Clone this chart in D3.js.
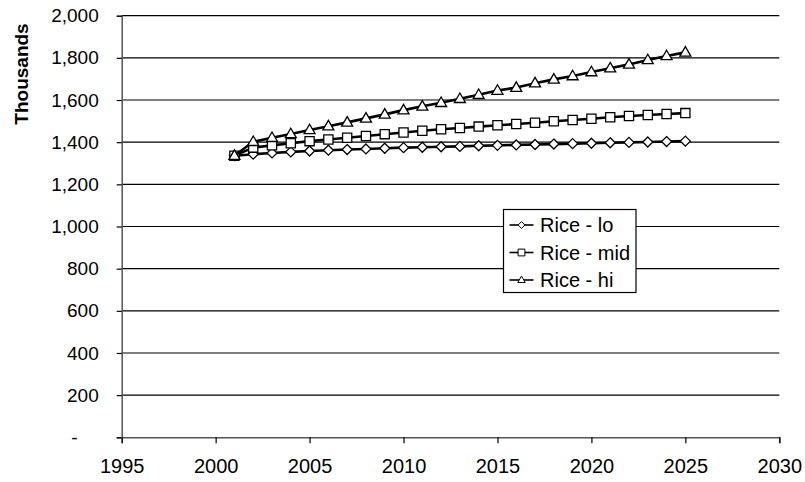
<!DOCTYPE html>
<html>
<head>
<meta charset="utf-8">
<script src="https://cdn.jsdelivr.net/npm/d3@7"></script>
<style>
  html, body { margin: 0; padding: 0; background: #fff; }
  svg { display: block; font-family: "Liberation Sans", Arial, sans-serif; }
</style>
</head>
<body>
<svg id="chart" width="805" height="482"></svg>
<script>
// Projection years
const years = [2001, 2002, 2003, 2004, 2005, 2006, 2007, 2008, 2009, 2010, 2011, 2012, 2013,
               2014, 2015, 2016, 2017, 2018, 2019, 2020, 2021, 2022, 2023, 2024, 2025];

// Series values (thousands)
const riceLo  = [1336, 1343, 1349, 1354, 1358, 1362, 1365, 1368, 1371, 1374, 1376, 1378, 1380,
                 1383, 1385, 1387, 1389, 1391, 1393, 1395, 1397, 1399, 1401, 1403, 1405];
const riceMid = [1336, 1374, 1385, 1395, 1405, 1413, 1421, 1429, 1438, 1446, 1454, 1461, 1467,
                 1474, 1480, 1486, 1492, 1499, 1505, 1511, 1518, 1524, 1529, 1534, 1538];
const riceHi  = [1336, 1402, 1421, 1439, 1458, 1476, 1494, 1513, 1532, 1552, 1570, 1587, 1606,
                 1625, 1645, 1659, 1680, 1698, 1714, 1733, 1751, 1769, 1790, 1809, 1826];

const seriesNames = ["Rice - lo", "Rice - mid", "Rice - hi"];
const seriesValues = [riceLo, riceMid, riceHi];
const seriesSymbols = ["diamond", "square", "triangle"];

// Axis ticks
const xTicks = [1995, 2000, 2005, 2010, 2015, 2020, 2025, 2030];
const yTicks = [0, 200, 400, 600, 800, 1000, 1200, 1400, 1600, 1800, 2000];

const svg = d3.select("#chart");
const plotLeft = 121.7, plotRight = 779.3, plotTop = 15.7, plotBottom = 437.3;

const x = d3.scaleLinear().domain([1995, 2030]).range([plotLeft, plotRight]);
const y = d3.scaleLinear().domain([0, 2000]).range([plotBottom, plotTop]);

// Horizontal gridlines
svg.append("g")
  .selectAll("line")
  .data(yTicks.filter(d => d > 0))
  .join("line")
  .attr("x1", plotLeft).attr("x2", plotRight)
  .attr("y1", d => y(d)).attr("y2", d => y(d))
  .attr("stroke", "#000").attr("stroke-width", 1.2);

// Y axis
const fmt = d3.format(",");
const yAxis = svg.append("g")
  .attr("transform", `translate(${plotLeft},0)`)
  .call(d3.axisLeft(y).tickValues(yTicks).tickSize(5).tickPadding(18)
        .tickFormat(d => d === 0 ? "-" : fmt(d)));
yAxis.select(".domain").attr("stroke", "#555").attr("stroke-width", 1.5);
yAxis.selectAll(".tick line").attr("stroke", "#000").attr("stroke-width", 1.2);
yAxis.selectAll(".tick text")
  .attr("font-size", 19).attr("fill", "#000")
  .attr("font-family", "Liberation Sans, Arial, sans-serif")
  .attr("dx", d => d === 0 ? -21 : 0);

// X axis
const xAxis = svg.append("g")
  .attr("transform", `translate(0,${plotBottom})`)
  .call(d3.axisBottom(x).tickValues(xTicks).tickSize(6).tickPadding(16)
        .tickFormat(d3.format("d")));
xAxis.select(".domain").attr("stroke", "#555").attr("stroke-width", 1.5);
xAxis.selectAll(".tick line").attr("stroke", "#000").attr("stroke-width", 1.2);
xAxis.selectAll(".tick text")
  .attr("font-size", 20).attr("fill", "#000")
  .attr("font-family", "Liberation Sans, Arial, sans-serif");

// Y axis title
svg.append("text")
  .attr("transform", "translate(28,74) rotate(-90)")
  .attr("text-anchor", "middle")
  .attr("font-size", 19).attr("font-weight", "bold")
  .text("Thousands");

// Marker shapes
function markerPath(kind, s) {
  if (kind === "diamond") return `M0,${-s}L${s},0L0,${s}L${-s},0Z`;
  if (kind === "square") return `M${-s},${-s}H${s}V${s}H${-s}Z`;
  return `M0,${-s * 1.15}L${s * 1.1},${s * 0.75}L${-s * 1.1},${s * 0.75}Z`;
}
const markerSize = { diamond: 5, square: 4.6, triangle: 5 };

const line = d3.line().x((d, i) => x(years[i])).y(d => y(d));

seriesValues.forEach((vals, k) => {
  const g = svg.append("g");
  g.append("path")
    .datum(vals)
    .attr("d", line)
    .attr("fill", "none").attr("stroke", "#000").attr("stroke-width", 2.6);
  g.selectAll("path.m")
    .data(vals)
    .join("path")
    .attr("class", "m")
    .attr("transform", (d, i) => `translate(${x(years[i])},${y(d)})`)
    .attr("d", markerPath(seriesSymbols[k], markerSize[seriesSymbols[k]]))
    .attr("fill", "#fff").attr("stroke", "#000").attr("stroke-width", 1.3);
});

// Legend
const lg = svg.append("g").attr("transform", "translate(503.5,209.5)");
lg.append("rect").attr("width", 132.5).attr("height", 83)
  .attr("fill", "#fff").attr("stroke", "#000").attr("stroke-width", 1.2);
seriesNames.forEach((name, k) => {
  const cy = 15.5 + k * 27.5;
  lg.append("line").attr("x1", 6).attr("x2", 30).attr("y1", cy).attr("y2", cy)
    .attr("stroke", "#000").attr("stroke-width", 1.6);
  lg.append("path")
    .attr("transform", `translate(18,${cy})`)
    .attr("d", markerPath(seriesSymbols[k], 3.4))
    .attr("fill", "#fff").attr("stroke", "#000").attr("stroke-width", 1);
  lg.append("text").attr("x", 36.5).attr("y", cy + 7)
    .attr("font-size", 20).text(name);
});
</script>
</body>
</html>
